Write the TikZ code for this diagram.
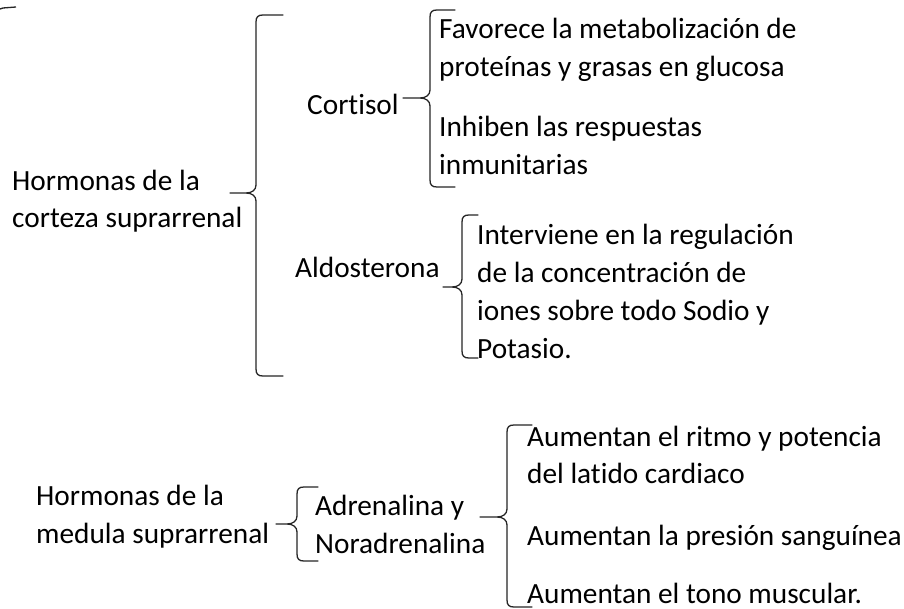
\documentclass[tikz,border=0pt]{standalone}
\usepackage{fontspec}
\setmainfont{Carlito}[Ligatures=NoCommon]
\newcommand\mybrace[6]{% #1 xv, #2 ytop, #3 ymid, #4 ybot, #5 xtip, #6 xstem
  \draw[brc] (#5,#2) -- (#1+7,#2) .. controls (#1+2,#2) and (#1,#2+2) .. (#1,#2+7)
    -- (#1,#3-8) .. controls (#1,#3-3) and (#1-4,#3) .. (#1-10,#3) -- (#6,#3)
    (#1-10,#3) .. controls (#1-4,#3) and (#1,#3+3) .. (#1,#3+8)
    -- (#1,#4-7) .. controls (#1,#4-2) and (#1+2,#4) .. (#1+7,#4) -- (#5,#4);}
\begin{document}
\begin{tikzpicture}[x=1pt,y=-1pt,
  brc/.style={draw=black!85,line width=1.3pt,line cap=round},
  txt/.style={anchor=base west,inner sep=0pt,align=left,font=\fontsize{29.3}{38}\selectfont}]
\useasboundingbox[fill=white] (0,0) rectangle (904,609);
% texts (anchor = baseline of the last line)
\node[txt,font=\fontsize{29.3}{37}\selectfont] (hc) at (12,228) {Hormonas de la\\corteza suprarrenal};
\node[txt] (cort) at (307,115) {Cortisol};
\node[txt] (aldo) at (295,278) {Aldosterona};
\node[txt] (fav) at (439,77) {Favorece la metabolización de\\proteínas y grasas en glucosa};
\node[txt] (inh) at (439,175) {Inhiben las respuestas\\inmunitarias};
\node[txt] (int) at (477,358) {Interviene en la regulación\\de la concentración de\\iones sobre todo Sodio y\\Potasio.};
\node[txt] (hm) at (36,543) {Hormonas de la\\medula suprarrenal};
\node[txt] (adr) at (315,553) {Adrenalina y\\Noradrenalina};
\node[txt,font=\fontsize{29.3}{37}\selectfont] (rit) at (527,483) {Aumentan el ritmo y potencia\\del latido cardiaco};
\node[txt] (pre) at (527,545) {Aumentan la presión sanguínea};
\node[txt] (ton) at (527,603) {Aumentan el tono muscular.};
% braces
\mybrace{256}{15}{193}{376}{283}{230}
\mybrace{430}{10}{98}{187}{455}{403}
\mybrace{462}{215}{287}{358}{478}{443}
\mybrace{297}{487}{524}{561}{318}{276}
\mybrace{507}{425}{517}{607}{532}{480}
\draw[brc,line cap=butt] (0,9) -- (3,8) -- (16,7);
\end{tikzpicture}
\end{document}
